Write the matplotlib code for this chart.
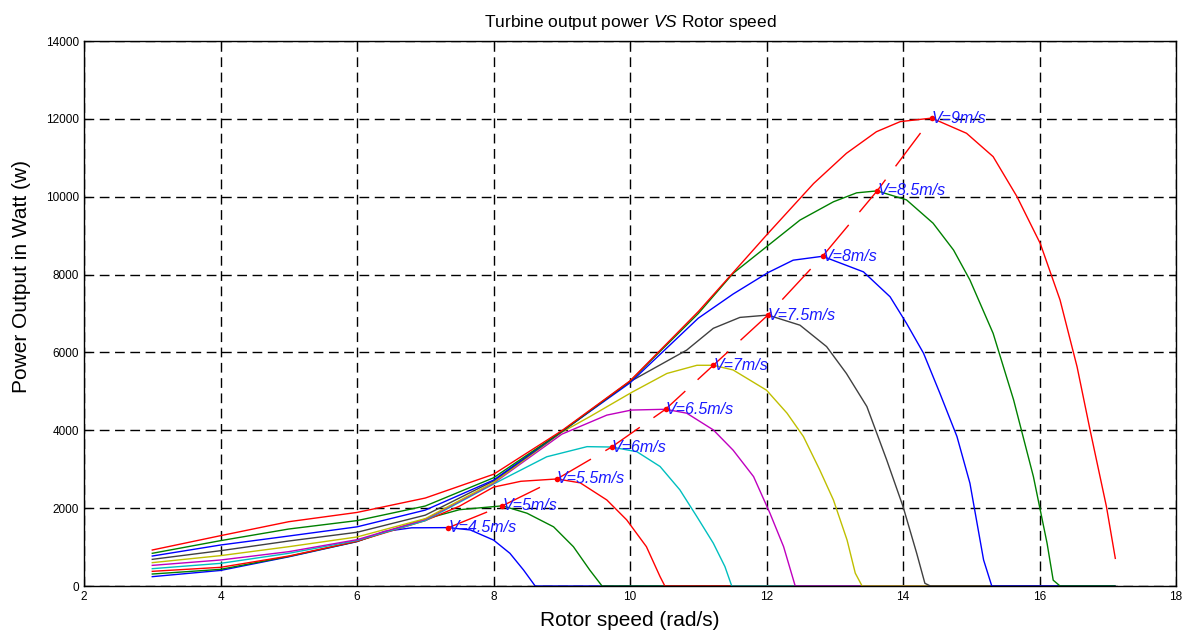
import matplotlib
matplotlib.use('Agg')
import matplotlib.pyplot as plt

# rotor speed (rad/s) and power (W)
rotor_45 = [3, 4, 5, 6, 6.4, 6.8, 7.34, 7.66, 8.0, 8.24, 8.44, 8.61, 17.1]
power_45 = [240, 400, 750, 1140, 1400, 1495, 1500, 1440, 1180, 840, 410, 0, 0]

rotor_5 = [3, 4, 5, 6, 7, 7.5, 8.13, 8.49, 8.88, 9.17, 9.41, 9.59, 17.1]
power_5 = [308, 428, 760, 1145, 1720, 1960, 2060, 1870, 1520, 1010, 410, 0, 0]

rotor_55 = [3, 4, 5, 6, 7, 7.5, 8, 8.4, 8.93, 9.27, 9.66, 9.95, 10.24, 10.44, 10.51, 17.1]
power_55 = [377, 480, 770, 1150, 1680, 2050, 2540, 2690, 2750, 2650, 2210, 1700, 1010, 240, 0, 0]

rotor_6 = [3, 4, 5, 6, 7, 8, 8.78, 9.37, 9.73, 10.1, 10.44, 10.73, 10.98, 11.22, 11.39, 11.49, 17.1]
power_6 = [445, 582, 840, 1170, 1680, 2620, 3320, 3580, 3570, 3450, 3070, 2470, 1780, 1100, 500, 0, 0]

rotor_65 = [3, 4, 5, 6, 7, 8, 9, 9.66, 10.02, 10.52, 10.83, 11.22, 11.51, 11.81, 12.05, 12.25, 12.42, 17.1]
power_65 = [530, 668, 882, 1190, 1710, 2640, 3900, 4390, 4520, 4540, 4440, 4010, 3490, 2810, 1870, 1010, 0, 0]

rotor_7 = [3, 4, 5, 6, 7, 8, 9, 9.41, 10.02, 10.54, 10.98, 11.22, 11.51, 12.0, 12.3, 12.54,
           12.78, 12.98, 13.18, 13.3, 13.4, 17.1]
power_7 = [600, 780, 1010, 1260, 1730, 2660, 3950, 4350, 4970, 5460, 5670, 5670, 5550, 5030, 4440, 3840,
           2980, 2210, 1180, 330, 0, 0]

rotor_75 = [3, 4, 5, 6, 7, 8, 9, 10, 10.83, 11.22, 11.61, 12.02, 12.49, 12.88, 13.17, 13.47,
            13.76, 14.0, 14.2, 14.32, 14.4, 17.1]
power_75 = [685, 907, 1156, 1380, 1820, 2700, 3960, 5250, 6060, 6620, 6900, 6960, 6700, 6150, 5460, 4610,
            3240, 2040, 840, 70, 0, 0]

rotor_8 = [3, 4, 5, 6, 7, 8, 9, 10, 11, 11.51, 12.02, 12.39, 12.82, 13.42, 13.81, 14.05, 14.3,
           14.54, 14.79, 14.98, 15.18, 15.3, 17.1]
power_8 = [770, 1053, 1284, 1520, 1950, 2720, 3970, 5220, 6880, 7500, 8050, 8370, 8470, 8070, 7430, 6750, 5980,
           4950, 3840, 2640, 670, 0, 0]

rotor_85 = [3, 4, 5, 6, 7, 8, 9, 10, 11, 11.51, 12, 12.49, 12.98, 13.32, 13.62, 14.05, 14.44, 14.74,
            14.98, 15.32, 15.62, 15.91, 16.11, 16.2, 16.3, 17.1]
power_85 = [840, 1165, 1464, 1680, 2055, 2780, 3970, 5260, 7000, 8032, 8716, 9400, 9870, 10100, 10150, 9920, 9320, 8630,
            7860, 6490, 4780, 2810, 1100, 150, 0, 0]

rotor_9 = [3, 4, 5, 6, 7, 8, 9, 10, 11, 11.51, 12, 12.69, 13.17, 13.61, 13.96, 14.42, 14.93, 15.32,
           15.67, 16.01, 16.3, 16.55, 16.74, 16.98, 17.11]
power_9 = [925, 1293, 1652, 1890, 2260, 2870, 3990, 5270, 7050, 8050, 9016, 10340, 11115, 11670, 11930, 12020, 11630, 11030,
           10000, 8800, 7350, 5630, 4010, 2040, 710]

# maximum power point of each curve
peak_rotor = [7.34, 8.13, 8.93, 9.73, 10.52, 11.22, 12.02, 12.82, 13.62, 14.42]
peak_power = [1500, 2060, 2750, 3570, 4540, 5670, 6960, 8470, 10150, 12020]
peak_labels = ['V=4.5m/s', 'V=5m/s', 'V=5.5m/s', 'V=6m/s', 'V=6.5m/s',
               'V=7m/s', 'V=7.5m/s', 'V=8m/s', 'V=8.5m/s', 'V=9m/s']

curves = [(rotor_45, power_45), (rotor_5, power_5), (rotor_55, power_55),
          (rotor_6, power_6), (rotor_65, power_65), (rotor_7, power_7),
          (rotor_75, power_75), (rotor_8, power_8), (rotor_85, power_85),
          (rotor_9, power_9)]

# matlab default line colors
colors = ['#0000ff', '#008000', '#ff0000', '#00bfbf', '#bf00bf',
          '#bfbf00', '#404040', '#0000ff', '#008000', '#ff0000']

plt.rcParams['font.family'] = ['Liberation Sans', 'DejaVu Sans']
plt.rcParams['mathtext.fontset'] = 'custom'
plt.rcParams['mathtext.it'] = 'Liberation Sans:italic'

fig = plt.figure(figsize=(11.97, 6.34), dpi=100)
ax = fig.add_axes([0.0702, 0.0757, 0.9123, 0.8596])

for (x, y), c in zip(curves, colors):
    ax.plot(x, y, color=c, lw=1)

# peak tracking line and labels
ax.plot(peak_rotor, peak_power, color='r', lw=1, dashes=(30, 12))
ax.plot(peak_rotor, peak_power, 'o', color='r', ms=4, mec='none')
for x, y, s in zip(peak_rotor, peak_power, peak_labels):
    ax.text(x, y, s, color='#1a1aff', fontsize=11.5, style='italic',
            ha='left', va='center')

ax.set_xlim(2, 18)
ax.set_ylim(0, 14000)
ax.set_xticks(range(2, 19, 2))
ax.set_yticks(range(0, 14001, 2000))
ax.tick_params(direction='in', top=True, right=True, length=5, labelsize=8.5)
ax.grid(True, color='black', lw=1, dashes=(7, 4))
for sp in ax.spines.values():
    sp.set_linewidth(1)

ax.set_title(r'Turbine output power $VS$ Rotor speed', fontsize=12.5, pad=10)
ax.set_xlabel('Rotor speed (rad/s)', fontsize=15, labelpad=6)
ax.set_ylabel('Power Output in Watt (w)', fontsize=15)
ax.yaxis.set_label_coords(-0.049, 0.567)

fig.savefig('out.png', dpi=100)
